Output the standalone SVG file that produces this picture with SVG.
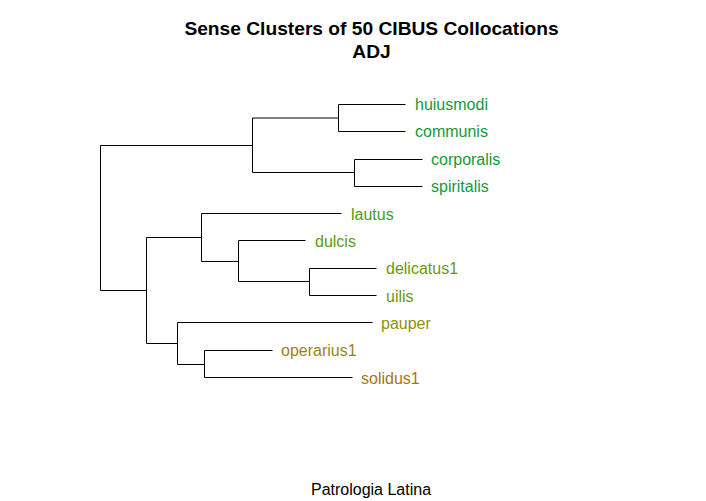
<svg xmlns="http://www.w3.org/2000/svg" width="706" height="501" viewBox="0 0 706 501">
<style>
.t{font-family:"Liberation Sans",Arial,sans-serif;font-weight:bold;font-size:19.2px;text-anchor:middle;fill:#000}
.l{font-family:"Liberation Sans",Arial,sans-serif;font-size:16px;fill:#000}
.sub{font-family:"Liberation Sans",Arial,sans-serif;font-size:16px;text-anchor:middle;fill:#000}
#edges path{fill:none;stroke:#000;stroke-width:1}
.g1{fill:#16993A}.g2{fill:#4C9C12}.g3{fill:#5E9A10}.g4{fill:#6B9810}.g5{fill:#8F9010}.g6{fill:#9A8412}.g7{fill:#A87612}
</style>
<rect width="706" height="501" fill="#fff"/>
<text class="t" x="371.5" y="35">Sense Clusters of 50 CIBUS Collocations</text>
<text class="t" x="371.5" y="58">ADJ</text>
<g id="edges">
<path d="M252.5,145.5H100.5V290.5H146.5"/>
<path d="M338.5,118H252.5V172.5H354.5"/>
<path d="M405.5,104.5H338.5V131.5H405.5"/>
<path d="M422.5,159.5H354.5V186.5H422.5"/>
<path d="M201.5,237.5H146.5V343.5H177.5"/>
<path d="M341.5,213.5H201.5V261.5H238.5"/>
<path d="M305.5,240.5H238.5V281.5H309.5"/>
<path d="M376.5,268.5H309.5V295.5H376.5"/>
<path d="M372.5,322.5H177.5V364.5H204.5"/>
<path d="M272.5,350.5H204.5V377.5H352.5"/>
</g>
<g id="huiusmodi"><text class="l g1" x="415" y="110">huiusmodi</text></g>
<g id="communis"><text class="l g1" x="415" y="137">communis</text></g>
<g id="corporalis"><text class="l g1" x="431" y="165">corporalis</text></g>
<g id="spiritalis"><text class="l g1" x="431" y="192">spiritalis</text></g>
<g id="lautus"><text class="l g2" x="351" y="220">lautus</text></g>
<g id="dulcis"><text class="l g3" x="315" y="247">dulcis</text></g>
<g id="delicatus1"><text class="l g4" x="386" y="274">delicatus1</text></g>
<g id="uilis"><text class="l g4" x="386" y="302">uilis</text></g>
<g id="pauper"><text class="l g5" x="381" y="329">pauper</text></g>
<g id="operarius1"><text class="l g6" x="281" y="356">operarius1</text></g>
<g id="solidus1"><text class="l g7" x="361" y="384">solidus1</text></g>
<text class="sub" x="371" y="495">Patrologia Latina</text>
</svg>
